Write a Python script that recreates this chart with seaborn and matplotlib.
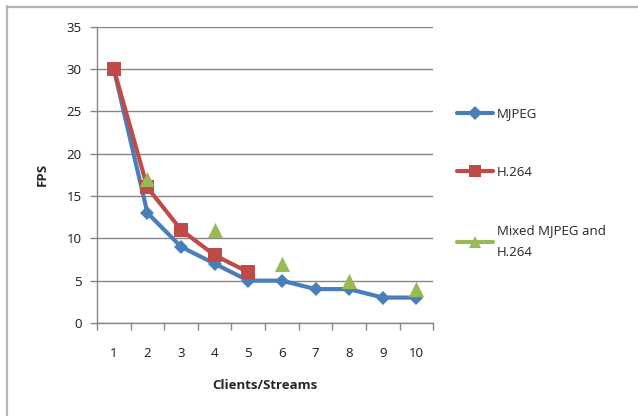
import numpy as np
import pandas as pd
import matplotlib
matplotlib.use("Agg")
import matplotlib.pyplot as plt
from matplotlib.lines import Line2D
import seaborn as sns

# Frame rate per number of clients/streams
clients = [1, 2, 3, 4, 5, 6, 7, 8, 9, 10]
mjpeg = [30, 13, 9, 7, 5, 5, 4, 4, 3, 3]
h264 = [30, 16, 11, 8, 6, np.nan, np.nan, np.nan, np.nan, np.nan]
mixed = [np.nan, 17, np.nan, 11, np.nan, 7, np.nan, 5, np.nan, 4]
series_names = ["MJPEG", "H.264", "Mixed MJPEG and\nH.264"]
y_ticks = [0, 5, 10, 15, 20, 25, 30, 35]

blue, red, green = "#4A7EBB", "#BE4B48", "#98B954"
grid_grey = "#868686"

sns.set_theme(style="white")
plt.rcParams["font.family"] = ["Open Sans", "DejaVu Sans"]

fig = plt.figure(figsize=(6.38, 4.16), dpi=100)
ax = fig.add_axes([0.152, 0.2236, 0.527, 0.7125])

df = pd.DataFrame({"x": clients, "MJPEG": mjpeg, "H.264": h264, "Mixed": mixed})

sns.lineplot(data=df.dropna(subset=["MJPEG"]), x="x", y="MJPEG", ax=ax,
             color=blue, linewidth=3.0, marker="D", markersize=7.5,
             markeredgewidth=0, zorder=3)
sns.lineplot(data=df.dropna(subset=["H.264"]), x="x", y="H.264", ax=ax,
             color=red, linewidth=3.0, marker="s", markersize=10,
             markeredgewidth=0, zorder=4)
mixed_df = df.dropna(subset=["Mixed"])
sns.scatterplot(data=mixed_df, x="x", y="Mixed", ax=ax, color=green,
                marker="^", s=120, linewidth=0, zorder=5)

ax.set_xlim(0.5, 10.5)
ax.set_ylim(0, 35)
ax.set_yticks(y_ticks)
ax.set_yticklabels([str(t) for t in y_ticks])
ax.set_xticks(clients)
ax.set_xticklabels([str(c) for c in clients])
ax.set_xticks(np.arange(0.5, 11, 1), minor=True)

ax.yaxis.grid(True, color=grid_grey, linewidth=1)
ax.set_axisbelow(True)
for side in ["top", "right"]:
    ax.spines[side].set_visible(False)
for side in ["left", "bottom"]:
    ax.spines[side].set_color(grid_grey)
    ax.spines[side].set_linewidth(1)

ax.tick_params(axis="x", which="major", length=0, pad=17, labelsize=9.5,
               colors="#1a1a1a")
ax.tick_params(axis="x", which="minor", bottom=True, length=5, width=1,
               color=grid_grey, direction="out")
ax.tick_params(axis="y", which="major", left=True, length=5, width=1,
               color=grid_grey, direction="out", pad=6, labelsize=9.5,
               labelcolor="#1a1a1a")

ax.set_xlabel("Clients/Streams", fontsize=9.5, fontweight="bold", labelpad=14)
ax.set_ylabel("FPS", fontsize=9.5, fontweight="bold", labelpad=13)

handles = [
    Line2D([], [], color=blue, linewidth=3.0, marker="D", markersize=7,
           markeredgewidth=0),
    Line2D([], [], color=red, linewidth=3.0, marker="s", markersize=9,
           markeredgewidth=0),
    Line2D([], [], color=green, linewidth=3.0, marker="^", markersize=9,
           markeredgewidth=0),
]
leg = fig.legend(handles, series_names, loc="upper left",
                 bbox_to_anchor=(0.708, 0.755), frameon=False, fontsize=9.5,
                 handlelength=2.75, handletextpad=0.3, labelspacing=3.45,
                 borderaxespad=0)
for t in leg.get_texts():
    t.set_linespacing(1.85)

# Chart area frame
fig.add_artist(Line2D([0.011, 1.0], [1 - 7 / 416, 1 - 7 / 416],
                      color="#b4b4b4", linewidth=1.6))
fig.add_artist(Line2D([7 / 638, 7 / 638], [0.0, 1 - 6 / 416],
                      color="#b4b4b4", linewidth=1.6))

fig.savefig("out.png", dpi=100)
